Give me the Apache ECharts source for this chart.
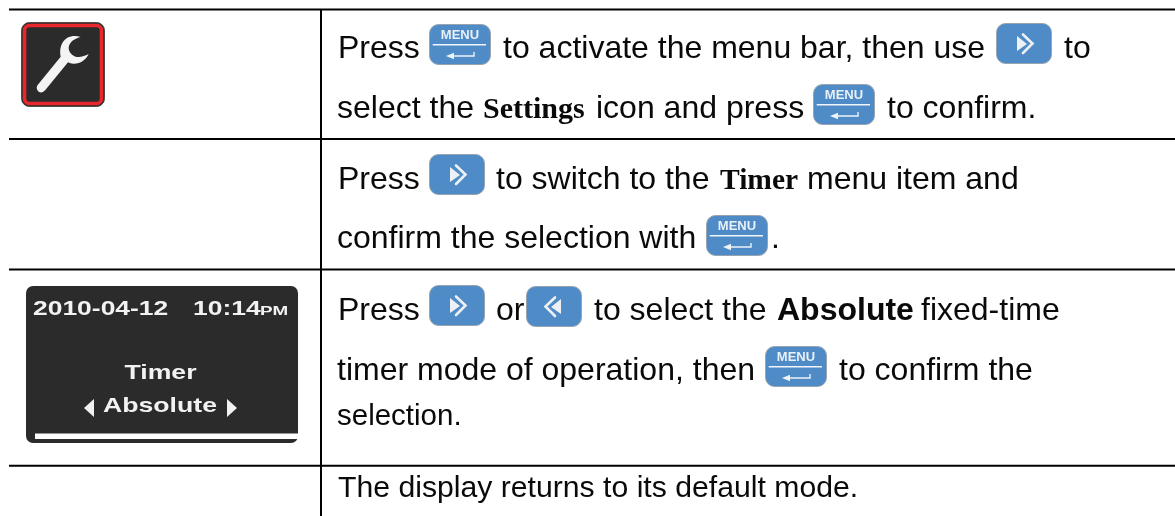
<!DOCTYPE html>
<html>
<head>
<meta charset="utf-8">
<style>
  html, body { margin: 0; padding: 0; background: #fff; }
  #app { width: 1175px; height: 516px; }
</style>
<script src="https://cdn.jsdelivr.net/npm/echarts@6/dist/echarts.min.js"></script>
</head>
<body>
<div id="app"></div>
<script>
// table texts
const row1Line1 = ["Press", "to activate the menu bar, then use", "to"];
const row1Line2 = ["select the", "Settings", "icon and press", "to confirm."];
const row2Line1 = ["Press", "to switch to the", "Timer", "menu item and"];
const row2Line2 = ["confirm the selection with", "."];
const row3Line1 = ["Press", "or", "to select the", "Absolute", "fixed-time"];
const row3Line2 = ["timer mode of operation, then", "to confirm the"];
const row3Line3 = ["selection."];
const row4Line1 = ["The display returns to its default mode."];
const screenTexts = ["2010-04-12", "10:14", "PM", "Timer", "Absolute"];
const menuLabel = "MENU";

const SANS = "'Liberation Sans', Arial, sans-serif";
const SERIF = "'Liberation Serif', serif";
const INK = "#0a0a0a";
const BLUE = "#4f8bc6";
const EDGE = "#98a3b0";

// wrench outline, traced at 3x
const wrenchPath =
  "M113 255 L182 170 C178 150 182 125 202 113 C215 107 230 107 242 111 C225 115 208 125 206 143 C206 160 222 172 238 171 C250 170 258 166 266 162 C258 180 240 192 220 191 C214 191 208 189 204 187 L136 270 C128 280 116 279 112 270 C109 264 110 259 113 255 Z";
echarts.graphic.registerShape("wrench", echarts.graphic.extendPath(wrenchPath));

let els = [];

// y is the text baseline, zrender has no alphabetic so go through middle
function txt(text, x, y, size, weight, family) {
  els.push({
    type: "text",
    silent: true,
    style: {
      text: text,
      x: x,
      y: y + 2.5 - 0.347 * (size || 32),
      font: (weight || "normal") + " " + (size || 32) + "px " + (family || SANS),
      fill: INK,
      verticalAlign: "middle",
    },
  });
}

function line(x1, y1, x2, y2, w, color) {
  els.push({
    type: "line",
    silent: true,
    shape: { x1: x1, y1: y1, x2: x2, y2: y2 },
    style: { stroke: color || "#000", lineWidth: w },
  });
}

function key(x, y, w, h) {
  els.push({
    type: "rect",
    silent: true,
    shape: { x: x + 0.5, y: y + 0.5, width: w - 1, height: h - 1, r: 9 },
    style: { fill: BLUE, stroke: EDGE, lineWidth: 1 },
  });
}

function menuKey(x, y) {
  key(x, y, 62, 41);
  els.push({
    type: "text",
    silent: true,
    style: {
      text: menuLabel,
      x: x + 31,
      y: y + 16 - 0.347 * 13,
      font: "bold 13px " + SANS,
      fill: "#e8f0f8",
      align: "center",
      verticalAlign: "middle",
    },
  });
  line(x + 3.7, y + 20.7, x + 57, y + 20.7, 1.6, "#f2f6fa");
  // enter arrow
  els.push({
    type: "polyline",
    silent: true,
    shape: { points: [[x + 23, y + 32], [x + 45, y + 32], [x + 45, y + 28]] },
    style: { stroke: "#eef3f8", lineWidth: 1.4, fill: null },
  });
  els.push({
    type: "polygon",
    silent: true,
    shape: { points: [[x + 17, y + 32], [x + 25, y + 28.8], [x + 25, y + 35.2]] },
    style: { fill: "#eef3f8" },
  });
}

// dir 1 points right, -1 points left
function arrowKey(x, y, dir) {
  key(x, y, 56, 41);
  const cx = x + 28;
  const p = (dx, dy) => [cx + dx * dir, y + dy];
  els.push({
    type: "polygon",
    silent: true,
    shape: { points: [p(-7, 13), p(3, 21), p(-7, 28)] },
    style: { fill: "#edf1f6" },
  });
  els.push({
    type: "polyline",
    silent: true,
    shape: { points: [p(-1, 11.5), p(8.5, 20.5), p(-1, 30)] },
    style: { stroke: "#edf1f6", lineWidth: 2.6, fill: null, lineCap: "round" },
  });
}

// rules
line(9, 9.5, 1175, 9.5, 2.2);
line(9, 139, 1175, 139, 2);
line(9, 269.6, 1175, 269.6, 2);
line(9, 465.7, 1175, 465.7, 2);
line(321, 9, 321, 516, 2);

// row 1
txt(row1Line1[0], 338, 58);
menuKey(429, 24);
txt(row1Line1[1], 503, 58);
arrowKey(996, 23, 1);
txt(row1Line1[2], 1064, 58);
txt(row1Line2[0], 337, 118);
txt(row1Line2[1], 483, 118, 30, "bold", SERIF);
txt(row1Line2[2], 596, 118);
menuKey(813, 84);
txt(row1Line2[3], 887, 118);

// row 2
txt(row2Line1[0], 338, 189);
arrowKey(429, 154, 1);
txt(row2Line1[1], 496, 189);
txt(row2Line1[2], 720, 189, 29.5, "bold", SERIF);
txt(row2Line1[3], 807, 189);
txt(row2Line2[0], 337, 248);
menuKey(706, 215);
txt(row2Line2[1], 771, 248);

// row 3
txt(row3Line1[0], 338, 320);
arrowKey(429, 285, 1);
txt(row3Line1[1], 496, 320);
arrowKey(526, 286, -1);
txt(row3Line1[2], 594, 320);
txt(row3Line1[3], 777, 320, 32, "bold");
txt(row3Line1[4], 921, 320);
txt(row3Line2[0], 337, 380);
menuKey(765, 346);
txt(row3Line2[1], 839, 380);
txt(row3Line3[0], 337, 425, 29.5);

// row 4
txt(row4Line1[0], 338, 497, 30.2);

// wrench icon
els.push({
  type: "rect",
  silent: true,
  shape: { x: 21.5, y: 22.5, width: 83, height: 84, r: 8 },
  style: { fill: "#2b2b2b", stroke: "#4a4a4a", lineWidth: 1 },
});
els.push({
  type: "rect",
  silent: true,
  shape: { x: 24.5, y: 25.5, width: 77, height: 78, r: 5 },
  style: { fill: "#2b2b2b", stroke: "#e8262c", lineWidth: 3.6 },
});
els.push({
  type: "wrench",
  silent: true,
  scaleX: 1 / 3,
  scaleY: 1 / 3,
  style: { fill: "#f4f4f4" },
});

// device screen
els.push({
  type: "rect",
  silent: true,
  shape: { x: 26, y: 286, width: 272, height: 157, r: 7 },
  style: { fill: "#2b2b2b" },
});
els.push({
  type: "rect",
  silent: true,
  shape: { x: 35, y: 433.5, width: 263, height: 5.5 },
  style: { fill: "#fff" },
});

function screenTxt(text, x, y, size, sx, align) {
  els.push({
    type: "text",
    silent: true,
    x: x,
    y: y,
    scaleX: sx,
    style: {
      text: text,
      x: 0,
      y: -0.347 * size,
      font: "bold " + size + "px " + SANS,
      fill: "#f2f2f2",
      align: align || "left",
      verticalAlign: "middle",
    },
  });
}

screenTxt(screenTexts[0], 33, 316, 20.5, 1.29);
screenTxt(screenTexts[1], 193, 316, 20.5, 1.29);
screenTxt(screenTexts[2], 260, 316, 13, 1.45);
screenTxt(screenTexts[3], 160.5, 380, 20.5, 1.3, "center");
screenTxt(screenTexts[4], 160, 413, 20.5, 1.3, "center");
els.push({
  type: "polygon",
  silent: true,
  shape: { points: [[84, 408], [94, 399], [94, 417]] },
  style: { fill: "#f2f2f2" },
});
els.push({
  type: "polygon",
  silent: true,
  shape: { points: [[237, 408], [227, 399], [227, 417]] },
  style: { fill: "#f2f2f2" },
});

let myChart = echarts.init(document.getElementById("app"));
myChart.setOption({
  animation: false,
  backgroundColor: "#fff",
  graphic: { elements: els },
});
</script>
</body>
</html>
